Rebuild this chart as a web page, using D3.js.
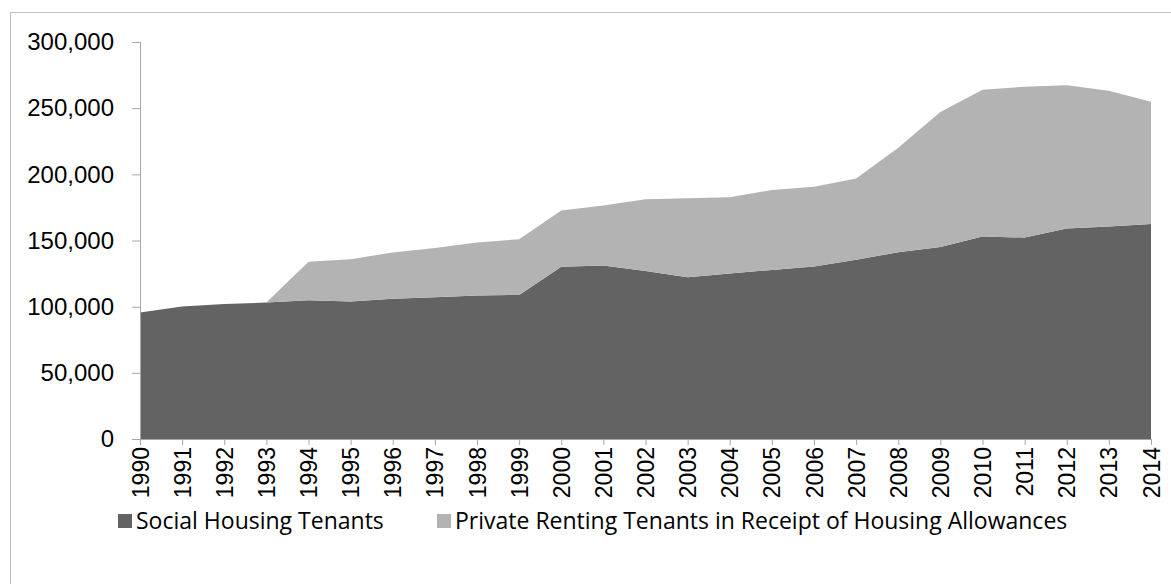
<!DOCTYPE html>
<html>
<head>
<meta charset="utf-8">
<script src="https://cdn.jsdelivr.net/npm/d3@7"></script>
<style>
  body { margin: 0; background: #fff; }
  svg { display: block; font-family: "Open Sans", sans-serif; }
</style>
</head>
<body>
<svg id="chart" width="1171" height="584"></svg>
<script>
var years = ["1990","1991","1992","1993","1994","1995","1996","1997","1998","1999","2000","2001",
  "2002","2003","2004","2005","2006","2007","2008","2009","2010","2011","2012","2013","2014"];

var socialTenants = [95600, 100100, 102100, 103100, 104900, 103900, 105900, 107200, 108400, 108900,
  130100, 131100, 127000, 122300, 125000, 127800, 130300, 135400, 141200, 145000,
  153000, 152200, 159000, 160500, 162500];

var privateTenants = [0, 0, 0, 0, 29100, 32000, 35100, 37100, 40000, 42100,
  42500, 45300, 54200, 59700, 57700, 60400, 60400, 61400, 78800, 102100,
  111000, 114000, 108300, 102700, 92300];

var seriesNames = ["Social Housing Tenants", "Private Renting Tenants in Receipt of Housing Allowances"];
var seriesColors = ["#636363", "#b3b3b3"];
var yTicks = [0, 50000, 100000, 150000, 200000, 250000, 300000];

var margin = { top: 42, right: 20, bottom: 145, left: 140 },
  width = 1171,
  height = 584,
  innerWidth = 1151 - margin.left,
  innerHeight = 439 - margin.top;

var svg = d3.select("#chart");

// outer chart border (runs past the right and bottom edges)
svg.append("path")
  .attr("d", "M10.5," + height + "V12.5H" + width)
  .attr("fill", "none")
  .attr("stroke", "#bfbfbf")
  .attr("stroke-width", 1);

var g = svg.append("g")
  .attr("transform", "translate(" + margin.left + "," + margin.top + ")");

var rows = years.map(function(y, i) {
  return { year: y, social: socialTenants[i], private: privateTenants[i] };
});

var stack = d3.stack().keys(["social", "private"]);
var layers = stack(rows);

var xScale = d3.scalePoint().domain(years).range([0, innerWidth]);
var yScale = d3.scaleLinear().domain([0, 300000]).range([innerHeight, 0]);

var area = d3.area()
  .x(function(d) { return xScale(d.data.year); })
  .y0(function(d) { return yScale(d[0]); })
  .y1(function(d) { return yScale(d[1]); });

g.selectAll(".layer")
  .data(layers)
  .enter()
  .append("path")
  .attr("class", "layer")
  .attr("d", area)
  .attr("fill", function(d, i) { return seriesColors[i]; });

// y axis
var yAxis = g.append("g")
  .attr("class", "y axis")
  .call(d3.axisLeft(yScale).tickValues(yTicks).tickSize(8).tickPadding(18)
    .tickFormat(d3.format(",")));
yAxis.select(".domain").attr("stroke", "#a6a6a6").attr("d", "M0.5," + innerHeight + "V0");
yAxis.selectAll("line").attr("stroke", "#a6a6a6");
yAxis.selectAll("text")
  .style("font-size", "24px")
  .attr("fill", "#000");

// x axis
var xAxis = g.append("g")
  .attr("class", "x axis")
  .attr("transform", "translate(0," + innerHeight + ")")
  .call(d3.axisBottom(xScale).tickSize(6).tickPadding(0));
xAxis.select(".domain").attr("stroke", "#a6a6a6").attr("d", "M0,0.5H" + innerWidth);
xAxis.selectAll("line").attr("stroke", "#a6a6a6");
xAxis.selectAll("text")
  .style("font-size", "23px")
  .attr("fill", "#000")
  .attr("transform", "translate(0,8)rotate(-90)")
  .attr("x", 0)
  .attr("y", 0)
  .attr("dy", "0.35em")
  .style("text-anchor", "end");

// legend
var legendX = [118, 437];
var legend = svg.append("g").attr("class", "legend");
var items = legend.selectAll(".item")
  .data(seriesNames)
  .enter()
  .append("g")
  .attr("class", "item")
  .attr("transform", function(d, i) { return "translate(" + legendX[i] + ",521)"; });

items.append("rect")
  .attr("x", 0)
  .attr("y", -7)
  .attr("width", 14)
  .attr("height", 14)
  .attr("fill", function(d, i) { return seriesColors[i]; });

items.append("text")
  .attr("x", 18)
  .attr("y", 0)
  .attr("dy", "0.35em")
  .style("font-size", "23px")
  .attr("fill", "#000")
  .text(function(d) { return d; });
</script>
</body>
</html>
